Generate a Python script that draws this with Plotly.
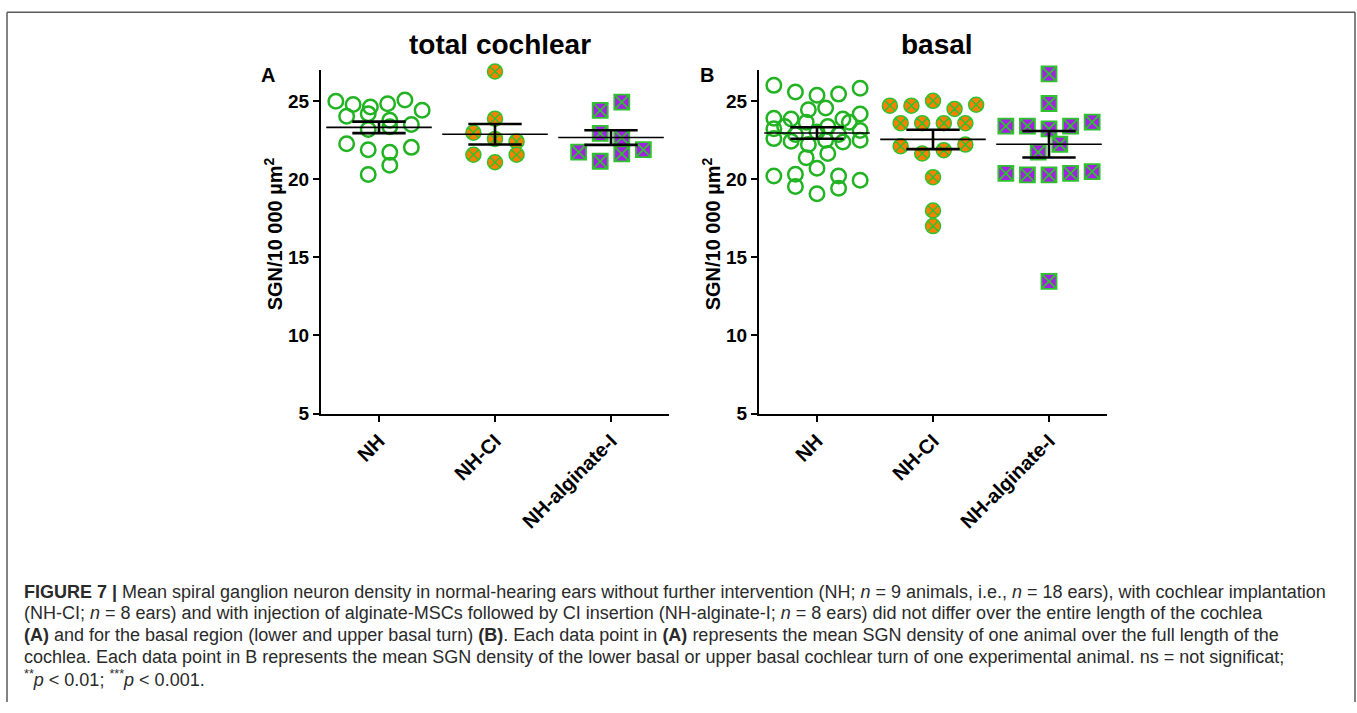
import plotly.graph_objects as go

W, H = 1357, 713

# ---------------- data ----------------
categories = ["NH", "NH-CI", "NH-alginate-I"]

# panel A: total cochlear (SGN / 10 000 µm²)
nh_A = [25.00, 24.79, 24.62, 24.83, 25.08,
        24.03, 24.41, 24.20, 23.78,
        23.51, 23.19, 23.36,
        22.27, 21.89, 21.72, 22.04,
        20.31, 20.90]
nhci_A = [26.90, 23.88, 22.98, 22.58, 22.42, 21.57, 21.09, 21.57]
alg_A = [24.41, 24.94, 22.94, 22.67, 21.74, 21.15, 21.62, 21.89]
mean_A = [23.32, 22.88, 22.67]
sem_A = [0.37, 0.66, 0.47]

# panel B: basal
nh_B = [26.01, 25.59, 25.38, 25.45, 25.82,
        23.91, 23.86, 24.45, 24.56, 23.86, 24.18,
        23.23, 23.38, 22.87, 23.65, 23.02, 23.38, 22.87, 23.65, 23.12,
        22.60, 22.43, 22.22, 22.49, 22.39, 22.49,
        21.37, 21.65,
        20.21, 20.32, 20.70, 20.21, 19.93,
        19.54, 19.07, 19.43]
nhci_B = [24.71, 24.71, 25.02, 24.50, 24.77,
          23.59, 23.59, 23.59, 23.59,
          22.11, 21.65, 21.86, 22.22,
          20.13, 18.00, 17.00]
alg_B = [26.75, 24.85,
         23.40, 23.40, 23.23, 23.40, 23.65,
         21.73, 22.24,
         20.38, 20.28, 20.28, 20.38, 20.49,
         13.46]
mean_B = [22.96, 22.55, 22.24]
sem_B = [0.37, 0.62, 0.85]

y_ticks = [5, 10, 15, 20, 25]
panel_titles = ["total cochlear", "basal"]
panel_letters = ["A", "B"]
y_title = "SGN/10 000 µm<sup>2</sup>"

caption_lines = [
    "<b>FIGURE 7 |</b> Mean spiral ganglion neuron density in normal-hearing ears without further intervention (NH; <i>n</i> = 9 animals, i.e., <i>n</i> = 18 ears), with cochlear implantation",
    "(NH-CI; <i>n</i> = 8 ears) and with injection of alginate-MSCs followed by CI insertion (NH-alginate-I; <i>n</i> = 8 ears) did not differ over the entire length of the cochlea",
    "<b>(A)</b> and for the basal region (lower and upper basal turn) <b>(B)</b>. Each data point in <b>(A)</b> represents the mean SGN density of one animal over the full length of the",
    "cochlea. Each data point in B represents the mean SGN density of the lower basal or upper basal cochlear turn of one experimental animal. ns = not significat;",
    "<sup>**</sup><i>p</i> &lt; 0.01; <sup>***</sup><i>p</i> &lt; 0.001.",
]

# ---------------- helpers ----------------
FONT = "Liberation Sans, Arial, Helvetica, sans-serif"


def px(x):
    return x / W


def py(y):
    return 1 - y / H


def swarm_offsets(vals, h=0.8, slot=0.186, max_span=4):
    """GraphPad-like scatter arrangement: bin values into rows, spread each row."""
    order = sorted(range(len(vals)), key=lambda i: -vals[i])
    rows = []
    for i in order:
        if rows and vals[i] > vals[rows[-1][0]] - h:
            rows[-1].append(i)
        else:
            rows.append([i])
    offs = [0.0] * len(vals)
    for row in rows:
        row = sorted(row)
        m = len(row)
        step = slot if m <= max_span + 1 else max_span * slot / (m - 1)
        for k, i in enumerate(row):
            offs[i] = (k - (m - 1) / 2) * step
    return offs


green = "#22b322"
styles = [
    dict(symbol="circle-open", size=14.5, color=green, line=dict(width=2.5, color=green)),
    dict(symbol="circle-x", size=15, color="#ff8000", line=dict(width=1.5, color="#2ec22e")),
    dict(symbol="square-x", size=15, color="#a61fe6", line=dict(width=1.8, color="#2ec22e")),
]

fig = go.Figure()

panels = [
    ("x", "y", [nh_A, nhci_A, alg_A], mean_A, sem_A),
    ("x2", "y2", [nh_B, nhci_B, alg_B], mean_B, sem_B),
]

for xa, ya, groups, means, sems in panels:
    for gi, vals in enumerate(groups):
        offs = swarm_offsets(vals)
        fig.add_trace(go.Scatter(
            x=[gi + o for o in offs], y=vals, mode="markers",
            marker=styles[gi], xaxis=xa, yaxis=ya, cliponaxis=False,
            showlegend=False, hoverinfo="skip"))
    # mean lines
    mx, my = [], []
    for gi, m in enumerate(means):
        mx += [gi - 0.455, gi + 0.455, None]
        my += [m, m, None]
    fig.add_trace(go.Scatter(x=mx, y=my, mode="lines", line=dict(color="black", width=1.6),
                             xaxis=xa, yaxis=ya, showlegend=False, hoverinfo="skip",
                             cliponaxis=False))
    # SEM bars with caps
    ex, ey = [], []
    for gi, (m, s) in enumerate(zip(means, sems)):
        ex += [gi, gi, None, gi - 0.23, gi + 0.23, None, gi - 0.23, gi + 0.23, None]
        ey += [m - s, m + s, None, m + s, m + s, None, m - s, m - s, None]
    fig.add_trace(go.Scatter(x=ex, y=ey, mode="lines", line=dict(color="black", width=2.6),
                             xaxis=xa, yaxis=ya, showlegend=False, hoverinfo="skip",
                             cliponaxis=False))

y_dom = [py(420), py(71)]
axis_common = dict(showline=True, linecolor="black", linewidth=2, ticks="outside",
                   ticklen=6, tickwidth=2, tickcolor="black", showgrid=False,
                   zeroline=False, fixedrange=True)
yfont = dict(family=FONT, size=19, color="black", weight="bold")
xfont = dict(family=FONT, size=20, color="black", weight="bold")

fig.update_layout(
    width=W, height=H, margin=dict(l=0, r=0, t=0, b=0),
    paper_bgcolor="white", plot_bgcolor="white", showlegend=False,
    xaxis=dict(domain=[px(321), px(669)], range=[-0.5, 2.5], tickvals=[0, 1, 2],
               ticktext=categories, tickangle=-45, tickfont=xfont, anchor="y",
               **axis_common),
    yaxis=dict(domain=y_dom, range=[5, 27], tickvals=y_ticks, tickfont=yfont,
               anchor="x", **axis_common),
    xaxis2=dict(domain=[px(759), px(1107)], range=[-0.5, 2.5], tickvals=[0, 1, 2],
                ticktext=categories, tickangle=-45, tickfont=xfont, anchor="y2",
                **axis_common),
    yaxis2=dict(domain=y_dom, range=[5, 27], tickvals=y_ticks, tickfont=yfont,
                anchor="x2", **axis_common),
)

ann = []
for title, cx in zip(panel_titles, [500, 937]):
    ann.append(dict(text=f"<b>{title}</b>", x=px(cx), y=py(45), xref="paper", yref="paper",
                    xanchor="center", yanchor="middle", showarrow=False,
                    font=dict(family=FONT, size=28, color="black")))
for letter, lx in zip(panel_letters, [268, 707]):
    ann.append(dict(text=f"<b>{letter}</b>", x=px(lx), y=py(76), xref="paper", yref="paper",
                    xanchor="center", yanchor="middle", showarrow=False,
                    font=dict(family=FONT, size=20, color="black")))
for tx in [273, 711]:
    ann.append(dict(text=f"<b>{y_title}</b>", x=px(tx), y=py(238), xref="paper", yref="paper",
                    xanchor="center", yanchor="middle", textangle=-90, showarrow=False,
                    font=dict(family=FONT, size=20, color="black")))
for i, line in enumerate(caption_lines):
    ann.append(dict(text=line, x=px(22), y=py(601 + 22 * i), xref="paper", yref="paper",
                    xanchor="left", yanchor="middle", showarrow=False, align="left",
                    font=dict(family=FONT, size=18, color="#2a2a2a")))
fig.update_layout(annotations=ann)

# frame around the figure
frame = dict(color="#5a5a5a", width=1.5)
fig.update_layout(shapes=[
    dict(type="line", xref="paper", yref="paper", x0=px(7), x1=px(1355), y0=py(12.5), y1=py(12.5), line=frame),
    dict(type="line", xref="paper", yref="paper", x0=px(7), x1=px(7), y0=py(12.5), y1=0, line=frame),
    dict(type="line", xref="paper", yref="paper", x0=px(1355), x1=px(1355), y0=py(12.5), y1=0, line=frame),
])

fig.write_html("out.html", config=dict(displayModeBar=False))
